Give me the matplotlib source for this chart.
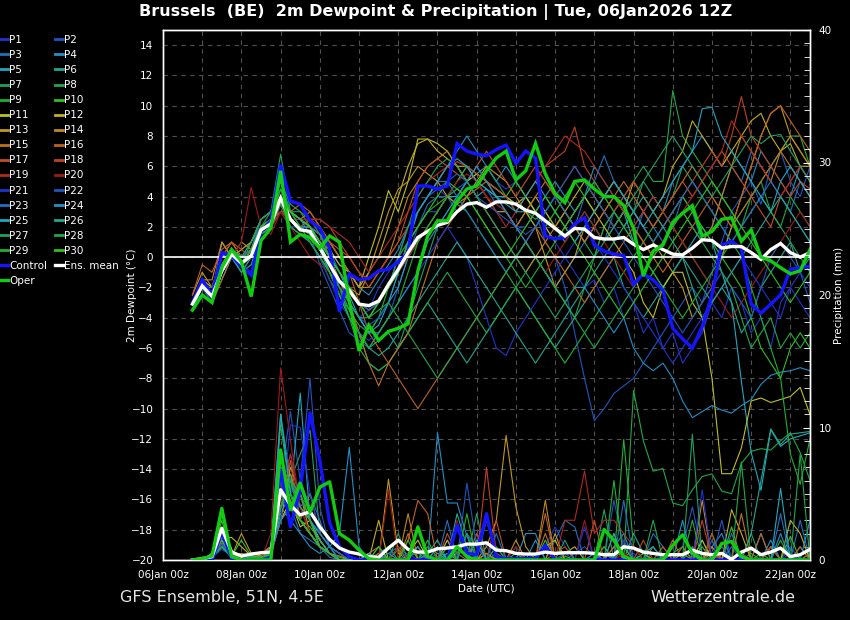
import numpy as np
import pandas as pd
import matplotlib
matplotlib.use("Agg")
import matplotlib.pyplot as plt
import matplotlib.dates as mdates
from matplotlib.lines import Line2D
from matplotlib.ticker import MultipleLocator

# ---------------- data ----------------
times = pd.date_range("2026-01-06 18:00", periods=64, freq="6h")

member_names = ["P%d" % k for k in range(1, 31)]
member_colors = [
    "#2233cc", "#1f55c0", "#1f70c0", "#2090c8", "#20a8c0", "#20a890", "#20a060", "#20a848", "#20b030", "#30c020",
    "#c0c020", "#c0b020", "#c09820", "#c08820", "#c07020", "#c06020", "#c05020", "#c04020", "#b02820", "#a01818",
    "#2233cc", "#1f55c0", "#1f70c0", "#2090c8", "#20a8c0", "#20a890", "#20a060", "#20a848", "#20b030", "#30c020",
]

# 2m dewpoint (deg C), 6-hourly from 06Jan 18z
control_dew = [-3.0, -1.5, -2.5, 0.3, 0.1, -0.6, -1.2, 1.7, 2.4, 6.1, 3.7, 3.5, 2.4, 1.9, 0.6, -3.6,
               -1.1, -1.5, -1.4, -0.9, -0.8, -0.3, 0.3, 4.7, 4.7, 4.5, 4.7, 7.5, 7.0, 6.8, 6.7, 7.1,
               7.4, 6.2, 7.0, 6.55, 1.4, 1.2, 1.3, 2.2, 2.6, 0.8, 0.4, 0.2, 0.1, -1.8, -1.1, -1.5,
               -2.2, -4.7, -5.4, -6.0, -4.6, -2.5, 0.8, 1.05, 0.6, -3.1, -3.7, -3.1, -2.5, -0.8, -0.7, -0.6]
oper_dew = [-3.5, -2.5, -3.0, -0.7, 0.5, -0.3, -2.6, 1.1, 1.9, 5.7, 1.0, 1.5, 1.3, 0.6, 1.4, 1.0,
            -2.9, -6.2, -4.5, -5.5, -4.9, -4.7, -4.4, -0.9, 1.4, 2.4, 2.4, 3.7, 4.5, 4.7, 5.7, 6.55,
            7.0, 5.1, 5.7, 7.5, 5.5, 4.2, 3.6, 5.0, 5.1, 4.5, 4.0, 4.0, 3.4, 1.9, -1.25, 0.4,
            0.8, 2.3, 2.9, 3.4, 1.4, 1.7, 2.5, 2.6, 1.05, 1.8, 0.0, -0.25, -0.7, -1.1, -0.9, 0.5]
mean_dew = [-3.1, -1.9, -2.6, -0.9, 0.2, -0.4, 0.1, 1.8, 2.2, 3.9, 2.5, 1.8, 1.7, 0.6, -0.5, -1.6,
            -2.2, -3.1, -3.2, -2.9, -1.8, -0.8, 0.3, 1.3, 1.7, 2.1, 2.3, 3.0, 3.5, 3.6, 3.3, 3.65,
            3.65, 3.5, 3.1, 2.9, 2.4, 1.9, 1.4, 1.9, 1.85, 1.3, 1.2, 1.2, 1.3, 0.85, 0.5, 0.8,
            0.5, 0.2, 0.15, 0.6, 1.15, 1.1, 0.6, 0.7, 0.7, 0.3, -0.15, 0.5, 0.9, 0.3, 0.0, 0.3]

dew_p01 = [-3, -2, -2.5, 1, 0, -0.5, -1, 1.5, 2.5, 3.5, 3, 2.5, 2, 1, -1, -2,
           -3, -4, -3.5, -2, -1, 0, 1, 3, 4, 4.5, 4, 5, 6, 5.5, 6, 5,
           4.5, 5, 4, 3, 2, 1, 0, -1, -2, -1.5, -3, -2, -4, -3, -5, -4,
           -6, -5, -7, -6, -5, -3, -4, -2, -3, -5, -4, -6, -3, -2, -3, -4]
dew_p02 = [-3, -1.5, -2, 0, 0.5, 0, 0.5, 2, 2, 3, 2, 2, 1.5, -0.5, -2, -3.5,
           -5, -5.5, -6, -5, -4, -2, 0, 2, 3, 3, 4, 4.5, 5, 6, 5, 4,
           3, 2, 2, 3, 1, 0, -2, -5, -8, -10.8, -10, -9, -8.5, -8, -7, -6,
           -5, -4, -3, -2, -3, -1, 1, 3, 4, 5, 3.5, 6, 7, 5, 4, 6]
dew_p03 = [-3.5, -2, -3, -1, 0, -1, 0, 2, 2.5, 4, 3, 2.5, 2, 1, 0, -1,
           -2, -3, -4, -3, -2, -1, 1, 2, 3.5, 4, 4, 3, 4, 5, 4.5, 3.5,
           3, 2, 1, 0, -1, -2, -1, 0, 1, 2, 1, 3, 2, 1, 3, 2,
           1, 2, 4, 3, 1, 2, 4, 6, 5, 7, 6, 5, 4, 3, 5, 4]
dew_p04 = [-3, -2, -2.5, -0.5, 0.5, 0, 0.5, 2, 2.5, 4.5, 3, 2.5, 2, 1.5, 0.5, -0.5,
           -1, -2, -2.5, -1.5, -0.5, 0.5, 2, 3, 4, 5, 6, 7, 8, 7, 6, 5,
           6, 5, 4, 3, 4, 5, 4, 3, 4, 6, 5, 4, 3, 2, 3, 4,
           3, 5, 6, 7, 8, 7, 6, 7, 6, 5, 7, 6, 5, 4, 6, 5]
dew_p05 = [-3, -2.5, -3, -1, 0, 0, 0.5, 2.5, 3, 5, 3, 2, 2, 1, 0, -1.5,
           -3, -4, -5, -4, -3, -2, 0, 1, 2, 3, 4, 4, 5, 4, 4.5, 4,
           4, 3, 3, 2, 3, 2, 1, 2, 3, 2, 1, 2, 3, 1, 0, -1,
           -2, -1, 0, 1, 2, 1, -1, -3, -8.2, -12.9, -15.4, -11.4, -12.5, -12, -11.8, -11.6]
dew_p06 = [-3.5, -2.5, -3, -1.5, 0, -1, 0, 2, 2, 4, 2.5, 2, 1, 0, -1, -2,
           -3.5, -5, -6, -5.5, -5, -6, -5, -4, -3, -4, -5, -6, -7, -6, -5, -4,
           -3, -2, -3, -4, -5, -6, -5, -4, -3, -2, -1, 0, -2, -3, -4, -3,
           -2, -1, 0, -2, -4, -3, -2, -3, -5, -4, -2, -1, 0, 1, -1, 0]
dew_p07 = [-3, -2, -2.5, -0.5, 0.5, -0.5, 1, 2, 3, 6.8, 3, 3, 2, 1, -0.5, -2,
           -4, -5, -7, -7.5, -7, -6, -4, -2, 0, 2, 3, 4, 5, 5.5, 6, 5,
           4, 3.5, 3, 2.5, 3, 4, 3, 2, 1, 0, 2, 3, 2, 3, 5, 4,
           3, 4, 6, 5, 4, 3, 2, 1, 2, 3, 4, 3, 2, 1, 0, -1]
dew_p08 = [-3, -2, -3, -1, 0, 0, 1, 2.5, 3, 4, 2, 1.5, 1, 0, -1, -2.5,
           -4, -6, -7, -7.5, -7, -6, -5, -4, -3, -2, -1, -2, -3, -4, -5, -4,
           -3, -2, -1, 0, -1, -2, -3, -4, -2, 0, 2, 3, 4, 5, 6, 5,
           5, 11, 8, 7, 6, 5, 4, 3, 2, 4, 5, 3, 2, 4, 3, 2]
dew_p09 = [-3.5, -2.5, -3, -1, 0.5, -0.5, 0, 1.5, 2, 3.5, 2, 1.5, 1, 0, -1.5, -2.5,
           -3.5, -4.5, -5, -4, -2, 0, 1, 2, 3, 3.5, 4, 3.5, 3, 2, 1, 0,
           -1, -2, -3, -4, -5, -6, -7, -6, -5, -4, -3, -2, -1, 0, 1, 2,
           3, 2, 1, 0, -1, -2, 0, 2, 3, 4, 5, 6, 7, 8, 8, 6]
dew_p10 = [-3, -2, -2.5, -0.5, 0, -0.5, 0.5, 2, 2.5, 4, 3, 2.5, 2, 1, 0, -1,
           -2, -3, -3.5, -3, -2, -1, 0, 1, 2, 3, 4, 5, 6, 5.5, 5, 4.5,
           4, 5, 4, 3, 2, 3, 4, 5, 4, 3, 4, 5, 4, 3, 2, 1,
           2, 3, 4, 3, 2, 1, 0, -1, -2, -4, -6, -7, -8, -6, -5, -6]
dew_p11 = [-3, -2, -2.5, 1, 0, 0.5, 1, 2.5, 3, 4, 3, 2.5, 2, 1.5, 1, 0,
           -1, -2, 0, 2, 4.4, 3, 5, 7.8, 7.8, 7.5, 7, 6, 5, 5.5, 5, 4.5,
           4, 3.5, 4, 3, 2, 1, 2, 3, 4, 3, 2, 1, 0, -1, -3, -4,
           -2, -1, -1, -3, -4, -8, -14.3, -14.3, -12.6, -9.5, -9.3, -9.6, -9.4, -9.2, -8.6, -10.4]
dew_p12 = [-3, -1.5, -2, 0, 1, 0, 0.5, 2, 2, 3.5, 2.5, 2, 2, 1, 0.5, -0.5,
           -1, -2, -1, 0, 2, 4, 6, 7.5, 7.8, 7, 6.5, 6, 6, 5, 4, 3,
           3, 2, 3, 4, 3, 2, 3, 4, 5, 4, 3, 2, 3, 5, 4, 3,
           4, 6, 7, 9, 8, 7, 6, 7, 8, 9, 9.5, 8, 7, 7.5, 6, 6]
dew_p13 = [-2.5, -1, -2, 0, 0.5, 0, 0, 1.5, 2, 3, 2.5, 2, 1.5, 0.5, -0.5, -1.5,
           -2, -2.5, -1, 1, 3, 4.5, 5, 6, 5.5, 5, 4, 3.5, 4, 5, 6, 5.5,
           5, 4, 3, 2, 0, -2, -1, 0, 2, 3, 4, 5, 4, 3, 2, 1,
           0, -1, -2, -4, -3, -2, 0, 2, 4, 6, 8, 9.5, 10, 8, 7, 6]
dew_p14 = [-3, -1.5, -1.5, 1, 0, 1, 0.5, 2, 2.5, 3.5, 3, 2.5, 3, 2, 1, 0,
           -1, -2, -2, -1, 0, 2, 4, 5, 6, 6.5, 7, 6, 5, 4, 3, 2,
           1, 0, -1, 0, 1, 2, 3, 2, 1, 2, 3, 4, 3, 2, 1, 0,
           1, 2, 3, 2, 1, 2, 4, 6, 8, 7, 6, 5, 7, 8, 7, 6]
dew_p15 = [-3.5, -2.5, -3, -1.5, 0, -0.5, 0, 2, 2, 4, 3, 2.5, 2, 1.5, 0, -1.5,
           -3, -5, -7, -8.5, -7, -6, -5, -3, -1, 1, 2, 3, 4, 4.5, 5, 4,
           3, 2, 3, 4, 5, 4, 3, 2, 1, 2, 3, 4, 5, 4, 3, 2,
           3, 4, 5, 6, 5, 4, 3, 2, 3, 4, 5, 6, 7, 6, 5, 4]
dew_p16 = [-2.5, -0.5, -1, 0.5, 1, 0, 0, 1.5, 2.5, 3, 3, 3.5, 3, 2, 1, 0,
           -1, -3, -5, -6, -7, -8, -9, -10, -9, -8, -7, -6, -5, -4, -3, -2,
           -1, 0, 1, 2, 1, 0, -1, -2, -3, -2, -1, 0, 1, 2, 1, 0,
           -1, 0, 1, 2, 3, 4, 3, 2, 4, 6, 8, 9.5, 10, 9, 8, 7]
dew_p17 = [-3, -2, -2, 0, 1, 0.5, 0, 2, 2.5, 3, 2.5, 2, 2.5, 2, 1, 0.5,
           0, -1, -2, -1, 0, 1, 3, 5, 6, 6.5, 6, 5.5, 5, 6, 7, 6,
           5, 4, 5, 6, 5, 4, 5, 6, 5, 4, 3, 2, 3, 4, 3, 2,
           3, 4, 5, 4, 5, 6, 7, 6, 5, 4, 3, 2, 4, 5, 6, 5]
dew_p18 = [-3, -2, -2.5, -0.5, 0.5, 0, 0.5, 2, 2, 3.5, 2.5, 2, 2.5, 2.5, 2, 1,
           0, -1, -1.5, -1, 0, 1, 2, 3, 4, 5, 6, 6.3, 6, 5.5, 5, 4.5,
           4, 3, 4, 5, 6, 6.5, 7, 8.6, 6, 5, 4, 3, 4, 5, 4, 3,
           2, 3, 4, 5, 6, 7, 6, 8, 10.6, 8, 7, 6, 5, 4, 5, 4.5]
dew_p19 = [-3, -2, -2, 0, 0, -0.5, 0, 2, 2, 3, 2.5, 2.5, 2.5, 2.5, 2, 1.5,
           1, 0, -1, 0, 1, 2, 3, 4, 5, 5.5, 6, 6.3, 6, 5, 4, 3,
           2, 3, 4, 5, 6, 7, 8, 7.5, 7, 6, 5, 4, 3, 2, 3, 4,
           3, 2, 3, 4, 5, 6, 7, 9, 8, 7, 6, 5, 4, 5, 6, 5]
dew_p20 = [-3, -2, -2, -0.5, 0, 1, 4.6, 2, 1.5, 3, 2, 1, 0, -0.5, -1, -2,
           -2.5, -3, -3.5, -3, -2, -1, 0, 1, 2, 3, 4, 5, 5.5, 5, 4, 3.5,
           3, 2, 1, 0, -1, 0, 1, 2, 3, 2, 1, 0, -1, -2, -1, 0,
           1, 2, 1, 0, -1, -2, -3, -4, -3, -2, -1, 0, 1, 2, 3, 2]
dew_p21 = [-3, -2, -2.5, -1, 0, -1, -0.5, 1.5, 2, 3.5, 2, 1.5, 1, 0, -1.5, -3,
           -4, -5, -5.5, -5, -4, -3, -2, -1, 0, 1, 2, 1, 0, -2, -4, -6,
           -6.5, -5, -4, -3, -2, -1, 0, 1, 2, 1, 0, -1, -2, -3, -4, -5,
           -6, -7, -6, -5, -4, -3, -2, -1, 0, -1, -2, -3, -4, -2, -1, -2]
dew_p22 = [-3.5, -2, -3, -1, 0, -0.5, 0, 2, 2.5, 4, 2.5, 2, 1.5, 0.5, -0.5, -2,
           -3, -4, -4.5, -4, -3, -1, 1, 3, 4, 4.5, 5, 5.5, 5, 4, 3.5, 3,
           2.5, 2, 1.5, 2, 3, 4, 5, 6, 5, 4, 3, 2, 1, 0, -1, -2,
           -3, -4, -5, -4, -3, -2, -1, -2, -3, -4, -2, 0, 1, 0, -1, -3]
dew_p23 = [-3, -2, -2.5, 0, 0.5, 0, 0.5, 2.5, 3, 4.5, 3, 2, 2, 1.5, 0.5, -1,
           -2, -3, -3.5, -3, -2, 0, 2, 3, 4, 5, 5, 4, 3, 2, 1, 0,
           -1, 0, 1, 2, 3, 4, 3, 2, 4, 5, 6.7, 5, 4, 3, 2, 1,
           2, 3, 4, 5, 4, 3, 2, 1, 2, 3, 4, 5, 4, 3, 2, 1]
dew_p24 = [-3, -2.5, -3, -1, 0, -0.5, 0.5, 2, 2, 4, 3, 2.5, 1.5, 0.5, -0.5, -2,
           -3, -4, -5, -5, -4, -3, -2, -1, 1, 2, 3, 4, 5, 6, 5, 4,
           3, 2, 1, 0, -1, -2, -3, -2, -2, -3, -4, -5, -4, -6, -7, -7.5,
           -7, -8, -9.5, -10.6, -10.2, -9.8, -10.1, -10.3, -9.8, -9.4, -8.4, -7.8, -7.6, -7.5, -7.3, -7.5]
dew_p25 = [-3, -2, -2.5, -0.5, 0.5, 0, 0, 2, 2.5, 4, 3, 2.5, 2, 1, 0, -1,
           -2.5, -4, -5, -4.5, -3, -1, 1, 3, 4, 5, 6, 6.5, 6, 5, 4.5, 4,
           3.5, 3, 4, 5, 4, 3, 2, 1, 2, 3, 4, 5, 4, 3, 2, 3,
           4, 5, 6, 7, 9.8, 9.9, 8, 7, 6, 5, 4, 3, 5, 6, 5, 4]
dew_p26 = [-3.5, -2.5, -3, -1, 0, -1, -0.5, 1.5, 2, 4, 2.5, 2, 1.5, 0.5, -1, -2.5,
           -4, -5, -6, -6.5, -6, -5, -4, -3, -2, -1, 0, 1, 0, -1, -2, -3,
           -4, -5, -6, -7, -6, -5, -4, -3, -2, -1, 0, 1, 2, 3, 4, 3,
           2, 1, 0, -1, -2, -3, -2, -1, 0, 1, 2, 3, 4, 3, 2, 1]
dew_p27 = [-3, -2, -2, -0.5, 0.5, 0, 1, 2.5, 3, 5, 3.5, 3, 2.5, 1.5, 0, -1,
           -2, -3, -4, -3, -2, 0, 2, 4, 5, 6, 6.5, 6, 5, 4, 3, 2,
           1, 0, -1, -2, -3, -4, -3, -2, -1, 0, 1, 2, 3, 4, 5, 6,
           7, 8, 7, 6, 5, 4, 5, 6, 7, 8, 7.5, 8, 8.1, 7, 6, 5]
dew_p28 = [-3, -2.5, -3, -1, 0, -0.5, 0, 2, 2, 3.5, 2, 1.5, 1, 0, -1, -2,
           -3, -4, -4, -3.5, -3, -4, -5, -6, -7, -8, -7, -6, -5, -4, -3, -2,
           -1, 0, 1, 0, -1, -2, -3, -4, -5, -6, -5, -4, -3, -2, -1, 0,
           1, 2, 3, 2, 1, 0, -1, -2, -4, -6, -5, -4, -6, -5, -6, -5]
dew_p29 = [-3.5, -2.5, -3, -1, 0, -0.5, 0, 2, 2.5, 4.5, 3, 2, 1.5, 0.5, -1, -2.5,
           -4, -5, -6, -5, -4, -3, -1, 1, 2, 3, 4, 4.5, 4, 3, 2, 1,
           0, -1, -2, -1, 0, 1, 2, 3, 4, 5, 4, 3, 2, 1, 0, -1,
           -2, -3, -4, -3, -2, -1, 0, 1, 0, -2, -4, -6, -8, -13, -15, -12]
dew_p30 = [-3, -2, -2.5, -0.5, 0, -0.5, 0.5, 2, 2.5, 4, 3, 2.5, 2, 1, 0, -1,
           -2, -3, -4, -3, -2, -1, 1, 2, 3, 4, 5, 4.5, 4, 3, 2, 1,
           0, 1, 2, 3, 4, 3, 2, 1, 0, -1, -2, -3, -4, -3, -2, -1,
           0, 1, 2, 3, 4, 5, 4, 3, 2, 1, 0, -1, -2, -3, -2, -1]

# 6-hourly precipitation (mm)
control_pr = [0, 0, 0, 2.1, 0.1, 0, 0, 0, 0.2, 6.8, 2.5, 5.3, 11.1, 7.5, 2.8, 1.0,
              0.25, 0, 0, 0, 0, 0, 0, 0, 0, 0, 0, 2.6, 0.5, 0.4, 3.5, 0.25,
              0.1, 0.1, 0.1, 0.1, 1.1, 0, 0, 0, 0, 0, 0, 0, 0, 0, 0, 0,
              0, 0, 0, 0, 0, 0, 0, 0, 0, 0, 0, 0, 0, 0, 0, 0]
oper_pr = [0, 0.1, 0.3, 3.9, 0.25, 0, 0, 0, 0, 8.3, 3.8, 5.8, 3.6, 5.5, 5.9, 2.0,
           1.5, 0.75, 0.1, 0, 0, 0, 0, 2.5, 0.25, 0, 0, 1.0, 0.25, 0, 0, 0,
           0, 0, 0, 0, 0, 0, 0, 0, 0, 0, 2.3, 1.5, 0.25, 0, 0, 0,
           0, 1.1, 1.9, 0.5, 0, 0, 1.25, 1.4, 0.25, 0, 0, 0, 0, 0, 0, 0]
mean_pr = [0, 0.1, 0.25, 2.4, 0.6, 0.3, 0.45, 0.55, 0.6, 5.3, 4.15, 3.4, 3.65, 2.5, 1.55, 0.9,
           0.6, 0.45, 0.25, 0.2, 0.9, 1.5, 0.8, 0.6, 0.6, 0.85, 0.9, 1.0, 1.2, 1.2, 1.3, 0.75,
           0.7, 0.5, 0.45, 0.45, 0.6, 0.5, 0.55, 0.55, 0.55, 0.5, 0.4, 0.4, 1.0, 0.9, 0.6, 0.5,
           0.4, 0.4, 0.4, 0.75, 0.5, 0.4, 0.5, 0.05, 0.6, 0.9, 0.4, 0.6, 0.9, 0.25, 0.4, 0.8]

pr_p01 = [0, 0, 0.5, 1.5, 0.3, 0, 0.5, 0, 1, 5, 8, 4, 2, 1, 0.5, 0,
          0, 0, 0, 0, 0, 1, 0, 0, 0, 0, 1.5, 0.5, 0, 2, 1, 0,
          0, 0, 0.5, 0, 1, 2.5, 1, 0, 0, 0.5, 1, 0, 0, 0.5, 0, 0,
          1, 0, 0.5, 0, 1.5, 0, 0, 1, 0.5, 0, 0, 1, 0, 0.5, 0, 0]
pr_p02 = [0, 0, 0.2, 1, 0.5, 0, 0, 0.3, 0.5, 6, 11.2, 6, 13.7, 4, 1, 0.5,
          0, 0, 0, 0.5, 0, 0, 0, 0, 0, 0.5, 0, 0, 0, 0, 3, 0.5,
          0, 0, 0, 0, 0, 0, 0, 0.5, 1, 0.3, 0, 4.5, 1, 0, 0, 0.5,
          0, 0, 1, 4, 0.5, 0, 0, 1, 0, 0, 0, 0, 0, 1, 0, 0]
pr_p03 = [0, 0.1, 0.3, 1, 0.2, 0, 0.5, 0.2, 0.5, 3, 4, 2, 1.5, 1, 0.2, 0,
          0, 0, 0, 0, 0.5, 1, 0.3, 0.5, 0, 1, 0, 0, 2, 1, 0, 0.5,
          0, 1, 0, 0, 0, 1.5, 3, 2.5, 0, 0, 0, 0, 0, 0, 0, 2,
          1, 0, 0, 0, 0, 1.5, 0, 2, 0, 0, 0, 1, 0, 0, 3, 0]
pr_p04 = [0, 0, 0.5, 2, 0.5, 0.3, 0, 0, 0.5, 4, 3, 2, 1, 0.5, 1, 2,
          8.5, 1, 0, 0, 0, 0, 0, 0, 0, 9.6, 4.3, 4.3, 1.8, 0, 0, 1,
          0, 0, 2, 2, 0, 0, 0, 0, 0, 0.5, 0, 1, 2, 0, 0, 0,
          0, 0, 3, 0, 0, 1, 2, 0, 0, 0, 0, 1.5, 0, 0, 1, 0]
pr_p05 = [0, 0, 0.3, 1.8, 0.4, 0, 0.3, 0.2, 0.4, 3.5, 5, 12.6, 3, 1, 0.5, 0,
          0, 0, 0, 0, 0, 0, 0, 0, 0, 0, 0.5, 0, 0, 1.5, 0, 0,
          0, 0, 0, 0, 0, 0, 0, 0, 0, 0, 0, 0, 0, 0, 0.5, 1,
          0, 0, 0, 1, 0, 0, 0, 0, 0, 0, 2, 0, 0, 0, 0, 0]
pr_p06 = [0, 0, 0.2, 1.2, 0.3, 0, 0.2, 0.5, 1, 11, 6, 4, 3, 2, 1, 0.5,
          0, 0, 0, 0.5, 1, 0, 0, 0, 0.5, 1.5, 0, 3.5, 1, 0, 0.5, 0,
          0, 0, 0, 0, 1, 0, 0, 0, 0, 0, 0, 0, 0, 2, 0.5, 0,
          0, 0, 0, 0, 0, 0, 0, 0, 0, 0, 0, 0, 0, 0, 0, 0]
pr_p07 = [0, 0, 0.3, 1, 0.3, 0, 0.2, 0.3, 0.5, 7, 6, 8, 9.8, 2, 1, 0,
          0, 0, 0, 0, 0, 2, 0, 0, 0, 0, 0, 0, 0, 3.5, 0, 0,
          0, 0, 0, 0, 0, 0, 0, 0, 0, 0, 3.8, 0, 0, 0, 0, 0,
          0, 0, 0, 0, 0, 0, 0, 0, 0, 2, 0, 0, 0, 0, 0, 0]
pr_p08 = [0, 0, 0.4, 1.5, 0.3, 0.5, 0.3, 0, 0.5, 10.2, 5, 3, 2, 1, 0.5, 0,
          0, 0, 0, 0, 0, 0, 0, 0, 1, 0.5, 0, 0, 0, 0, 0, 0,
          0, 0, 0, 0, 0, 0, 0, 0, 0, 0, 0, 0, 0, 12.8, 9, 6.7,
          6.9, 4.3, 4.1, 5.3, 6.3, 6.5, 5.2, 5.0, 7.3, 8.2, 8.4, 8.3, 9.0, 9.6, 8.1, 6.0]
pr_p09 = [0, 0, 0.2, 1, 0.2, 0, 0.1, 0.3, 0.5, 4, 5, 3, 2, 1, 0.5, 0.2,
          0, 0, 0.5, 0, 0, 0.8, 0, 0, 1.5, 0, 0, 0.5, 2, 0, 0, 1,
          0, 0, 0, 0, 0, 0, 0, 0, 0, 0, 0, 0, 9.1, 1, 0, 0,
          0, 0.5, 1, 0, 0, 2, 0, 0, 0, 0.5, 0, 0, 1.5, 0, 0, 0.5]
pr_p10 = [0, 0, 0.3, 3, 0.2, 0, 0.2, 0.3, 1, 5, 4, 3, 2.5, 1.5, 0.5, 0,
          0, 0, 0, 0, 0, 0, 0.5, 1, 0, 0, 0, 0, 0, 0, 0, 0,
          0, 0.5, 0, 0, 1.5, 0, 0.3, 0, 0, 0, 1, 0, 0, 0, 0.5, 0,
          0, 0, 0.5, 0, 1, 0, 0, 2.5, 0, 0, 0.5, 0, 0, 1.8, 0, 0]
pr_p11 = [0, 0, 0.2, 1.5, 0.5, 0.2, 0.5, 0.3, 0.5, 3, 4.5, 2.5, 3, 1.5, 0.5, 0,
          0, 0, 0, 0, 0, 0, 0.5, 1.5, 0, 0, 0, 0, 0, 0, 0.5, 0,
          0, 0, 0, 0, 1, 1.5, 0, 0, 0, 0, 0, 0, 0, 0, 0, 0,
          0, 0, 0, 0, 1.5, 0, 0, 0, 0, 0, 0, 0, 0, 0, 0, 0]
pr_p12 = [0, 0, 0.3, 1.7, 1.7, 1, 0.3, 0.5, 1, 4, 6, 5, 3, 1.5, 0.5, 0,
          0, 0, 0, 3, 0, 0, 0, 0, 0, 0, 1.5, 0, 0, 0, 0, 0,
          0, 0, 0, 0, 0, 0, 0.5, 1, 0, 0, 0, 0, 0, 0, 0, 0,
          0, 0, 0, 0, 0, 0, 0, 3.8, 2, 0, 0, 0, 0, 3, 2, 0]
pr_p13 = [0, 0, 0.2, 1, 0.3, 2, 0.5, 0.2, 0.5, 3, 7, 5, 2, 1, 0.5, 0,
          0, 0, 0, 0, 6.1, 0.5, 0, 0, 0, 0, 0, 0, 0, 0, 1, 3,
          9.4, 4, 1, 0, 0, 2, 0, 0, 0, 0, 0, 0, 0, 0, 0, 0,
          0, 0, 0, 0, 0, 1, 0, 0, 0, 0, 0, 0, 0, 0, 0, 0]
pr_p14 = [0, 0, 0.5, 1, 0.2, 0.5, 0.2, 0, 0.5, 5, 6.5, 4, 3, 1, 0.5, 0.3,
          0, 0, 0, 0, 0, 0, 3.5, 0, 0, 0, 0, 0, 0, 0, 0, 0,
          0, 1.5, 0, 0, 4.5, 0, 0, 0, 0, 0, 0, 0, 0, 1, 0.5, 0,
          0, 0, 0, 0, 4.5, 0, 0, 0, 0, 0, 0, 0, 0, 0, 0, 0]
pr_p15 = [0, 0, 0.3, 1, 0.3, 0, 0.2, 0.5, 1, 6, 4, 3, 5, 2, 1, 0.5,
          0, 0, 0.5, 1, 0, 0, 2, 0, 0, 0, 1, 0, 0, 0, 0.5, 0,
          0, 0, 0, 0, 2, 0, 0, 0, 0, 0, 0, 1, 0, 0, 0, 0,
          0, 1.5, 0, 0, 0, 0.5, 0, 0, 3.5, 0, 0, 1, 0, 0, 0, 0.5]
pr_p16 = [0, 0, 0.2, 1, 0.5, 0, 0.3, 0, 0.3, 3, 4, 3, 2, 1, 0.5, 0,
          0, 0, 0, 0.5, 0, 0, 1.5, 4.5, 3.5, 0, 0, 0, 0, 2, 0, 0,
          0, 0, 0, 0, 3.5, 0, 0, 0, 0, 0, 0, 0, 0, 0, 0, 0,
          0, 0, 1, 0, 0, 0, 0.5, 0, 0, 0, 2, 0, 0, 0, 1, 0]
pr_p17 = [0, 0, 0.3, 1.3, 0.4, 0, 0.2, 0.3, 0.5, 4, 7.5, 3, 2, 1, 0.5, 0,
          0, 0, 0, 0, 0, 0, 0, 1, 0, 0, 2, 0.5, 0, 0, 0, 3,
          0, 0, 0, 0, 0, 0, 0, 0, 0, 3, 0, 0, 1.5, 0, 0, 0,
          1, 0, 0, 0, 0, 2, 0, 0, 0, 0, 0, 1, 0, 0, 0, 0]
pr_p18 = [0, 0, 0.2, 1, 0.3, 0, 0.3, 0.2, 0.5, 4, 5, 3, 2, 1, 0.5, 0,
          0, 0, 0, 0, 0, 0, 0, 0, 0, 0, 0, 0, 0, 0, 7, 0.5,
          0, 0, 0, 0, 0, 0.5, 1, 0, 0, 0, 0, 2, 0, 0, 1.5, 0,
          0, 0, 0, 0, 3, 0, 0, 0, 0.5, 0, 0, 0, 0, 0, 0, 0]
pr_p19 = [0, 0, 0.3, 1, 0.2, 0, 0.4, 0.2, 0.5, 5, 8, 4, 2, 1, 0.5, 0,
          0, 0, 0, 0, 0, 1, 0, 0, 0, 0, 0, 0, 0, 0, 0, 0,
          0, 0, 0, 0, 0, 0, 3, 3, 6.7, 2, 3, 3, 2, 1, 0, 0,
          0, 0, 0, 0, 0, 0, 0, 0, 0, 0, 0, 0, 0, 0, 0, 0]
pr_p20 = [0, 0, 0.2, 1, 0.3, 0, 0.2, 0, 2, 14.5, 9, 4, 2, 1, 0.5, 0,
          0, 0, 0, 0, 5.3, 0, 0, 0, 0, 0, 0, 3, 0, 0, 0, 0,
          0, 1, 0, 0, 0, 0, 0, 0, 3, 0, 0, 0, 0.5, 0, 0, 0,
          0, 0, 0, 0, 0, 0, 0, 0, 0, 0, 0, 0, 0, 0, 0, 0]
pr_p21 = [0, 0, 0.2, 0.8, 0.3, 0, 0.2, 0, 0.5, 3, 10.2, 10, 5, 2, 1, 0,
          0, 0, 0, 0, 0, 0, 0.5, 0, 0, 0, 0, 0, 2, 0, 0, 0,
          0, 0, 0, 0, 0, 0, 0.5, 0, 2.5, 0, 0, 0, 1.5, 0, 0, 0,
          0, 0, 0, 0, 5.3, 0, 0, 0, 0, 0, 0, 0, 0, 0, 0, 0]
pr_p22 = [0, 0, 0.3, 1.2, 0.4, 0, 0.3, 0.2, 0.5, 4, 5, 6, 4, 2, 1, 0.5,
          0, 0, 0, 0, 0, 0, 0, 0, 0, 0, 0, 0, 5.8, 1, 0, 0,
          0, 0, 0, 0, 0, 0, 0, 0, 0, 0, 0, 0, 0, 0, 0, 0,
          0, 0, 0, 0, 0, 0, 3, 0, 0, 0, 0, 0, 0, 0, 0, 0]
pr_p23 = [0, 0, 0.3, 1, 0.3, 0, 0.2, 0, 0.5, 4, 5, 4, 5, 3, 1, 0.5,
          0, 0, 0, 0, 0, 0, 0, 0, 0, 0, 3, 0, 0, 0, 0, 2,
          0, 0, 0, 0, 0, 0, 0, 0, 0, 0, 0, 0, 4.5, 0, 0, 0,
          0, 0, 0, 0, 0, 0, 1, 0, 0, 0, 0, 0, 3.5, 0, 0, 0]
pr_p24 = [0, 0, 0.2, 1, 0.2, 0, 0.2, 0, 0.5, 3, 4, 5, 3, 2, 1, 0,
          0, 0, 0, 0, 0.5, 0, 0, 1, 0, 0, 0, 0, 0, 0, 0, 0,
          0, 0, 0, 1.5, 0, 0, 0, 0, 0, 0, 0.5, 0, 0, 0, 0, 0,
          0, 0, 0, 0, 0, 0, 0, 0, 0, 0, 0, 0, 2, 0, 0, 3]
pr_p25 = [0, 0, 0.3, 1.5, 0.3, 0, 0.3, 0.2, 0.5, 11, 5, 3, 2, 1, 0.5, 0,
          0, 0, 0.5, 0, 0, 0, 0, 0, 0, 1, 0, 0, 0, 1.5, 0, 0,
          0, 0, 0, 0, 0, 0, 0, 0, 0, 0, 0, 2, 0, 0, 0, 0,
          0, 0, 0, 0, 0, 0, 0, 0, 0, 0, 0, 0, 5.4, 0, 0, 0]
pr_p26 = [0, 0, 0.2, 1, 0.3, 0, 0.2, 0, 0.5, 4, 6, 4, 3, 1.5, 0.5, 0,
          0, 0, 0, 0, 0, 0, 0, 0, 0, 0, 0, 0, 0, 0, 3.5, 0,
          0, 0, 0, 0, 1, 0, 0, 0, 0, 0, 0, 0, 0, 0, 0, 1,
          0, 0, 0, 0, 0, 0, 0, 0, 0, 2, 6, 9.9, 8.7, 9.5, 9.6, 9.7]
pr_p27 = [0, 0, 0.3, 1, 0.3, 0.3, 0.3, 0.2, 0.5, 4, 6, 3, 2, 1, 0.5, 0,
          0, 0, 0, 1, 0, 0, 0, 0, 0, 0, 0, 0, 2, 0, 0, 0,
          0, 0, 0, 0, 0, 0, 1.5, 0, 0, 0, 0, 0, 0, 0, 0, 0,
          0, 0, 0, 9.5, 0, 0, 0, 0, 0, 0, 0, 0, 0, 0, 0, 0]
pr_p28 = [0, 0, 0.2, 1, 0.2, 0, 0.2, 0, 0.5, 4, 5, 3, 2, 1, 0.5, 0,
          0, 0, 0, 0, 0, 0, 0, 0, 0, 0, 1, 0, 0, 0, 0, 0,
          0, 0, 0, 0, 0, 0, 0, 0, 0, 0, 0, 0, 0, 0, 0, 3,
          0, 0, 0, 0, 0, 0, 0, 0, 7.4, 0, 0, 0, 0, 0, 8, 0]
pr_p29 = [0, 0, 0.3, 3.5, 0.3, 0, 0.2, 0, 0.5, 4, 6, 5, 3, 1, 0.5, 0,
          0, 0, 0, 0, 0, 0, 0, 0, 0, 0, 0, 0, 3.5, 0, 0, 0,
          0, 0, 0, 0, 0, 0, 0, 0, 0, 0, 0, 6, 0, 0, 0, 0,
          0, 0, 0, 3, 0, 0, 0, 0, 0, 0, 0, 0, 0, 0, 0, 0]
pr_p30 = [0, 0, 0.5, 1.5, 0.3, 1.5, 0.3, 0.2, 0.5, 5, 4, 3, 2, 1, 0.5, 0,
          0, 0, 0, 1, 0, 0, 1.5, 0, 0, 0, 0, 0, 0, 0, 0, 0,
          0, 0, 0, 0, 0, 0, 0, 0, 0, 0, 0, 0, 1, 0, 0, 0,
          0, 0, 0, 0, 0, 0, 0, 0, 0, 0, 0, 0, 0, 0, 0, 0]

member_dew = [dew_p01, dew_p02, dew_p03, dew_p04, dew_p05, dew_p06, dew_p07, dew_p08, dew_p09, dew_p10,
              dew_p11, dew_p12, dew_p13, dew_p14, dew_p15, dew_p16, dew_p17, dew_p18, dew_p19, dew_p20,
              dew_p21, dew_p22, dew_p23, dew_p24, dew_p25, dew_p26, dew_p27, dew_p28, dew_p29, dew_p30]
member_pr = [pr_p01, pr_p02, pr_p03, pr_p04, pr_p05, pr_p06, pr_p07, pr_p08, pr_p09, pr_p10,
             pr_p11, pr_p12, pr_p13, pr_p14, pr_p15, pr_p16, pr_p17, pr_p18, pr_p19, pr_p20,
             pr_p21, pr_p22, pr_p23, pr_p24, pr_p25, pr_p26, pr_p27, pr_p28, pr_p29, pr_p30]

for nm, arr in zip(member_names, member_dew):
    assert len(arr) == 64, ("dew", nm, len(arr))
for nm, arr in zip(member_names, member_pr):
    assert len(arr) == 64, ("pr", nm, len(arr))
for arr in (control_dew, oper_dew, mean_dew, control_pr, oper_pr, mean_pr):
    assert len(arr) == 64, len(arr)

# ---------------- styling ----------------
W, H = 850, 620
BG = "black"
FG = "white"
GRID = "#505050"
CONTROL_C = "#1414ff"
OPER_C = "#12cc12"
MEAN_C = "white"

plt.rcParams["font.family"] = ["DejaVu Sans"]

fig = plt.figure(figsize=(W / 100, H / 100), dpi=100, facecolor=BG)
ax = fig.add_axes([163 / W, 60 / H, 647 / W, 530 / H])
ax.set_facecolor(BG)
ax2 = ax.twinx()

# dewpoint
for c, arr in zip(member_colors, member_dew):
    ax.plot(times, arr, color=c, lw=0.8, zorder=2)
ax.axhline(0, color=FG, lw=1.2, zorder=3)
ax.plot(times, control_dew, color=CONTROL_C, lw=2.4, zorder=4, solid_joinstyle="miter")
ax.plot(times, mean_dew, color=MEAN_C, lw=2.4, zorder=5, solid_joinstyle="miter")
ax.plot(times, oper_dew, color=OPER_C, lw=2.4, zorder=6, solid_joinstyle="miter")

# precipitation
for c, arr in zip(member_colors, member_pr):
    ax2.plot(times, arr, color=c, lw=0.8, zorder=2)
ax2.plot(times, control_pr, color=CONTROL_C, lw=2.4, zorder=4)
ax2.plot(times, mean_pr, color=MEAN_C, lw=2.4, zorder=5)
ax2.plot(times, oper_pr, color=OPER_C, lw=2.4, zorder=6)

ax.set_xlim(pd.Timestamp("2026-01-06 00:00"), pd.Timestamp("2026-01-22 12:00"))
ax.set_ylim(-20, 15)
ax2.set_ylim(0, 40)

ax.set_yticks(np.arange(-20, 15, 2))
ax.xaxis.set_major_locator(mdates.DayLocator(bymonthday=list(range(6, 32, 2))))
ax.xaxis.set_minor_locator(mdates.DayLocator())
ax.xaxis.set_major_formatter(mdates.DateFormatter("%d%b %Hz"))

ax.grid(True, which="both", axis="x", color=GRID, lw=0.8, ls=(0, (4, 4)))
ax.grid(True, which="major", axis="y", color=GRID, lw=0.8, ls=(0, (4, 4)))
ax.set_axisbelow(True)

ax.tick_params(axis="both", which="both", length=0, colors=FG, labelsize=7.5)
ax.tick_params(axis="x", pad=7)
ax.tick_params(axis="y", pad=7)

ax2.set_yticks([0, 10, 20, 30, 40])
ax2.yaxis.set_minor_locator(MultipleLocator(1))
ax2.tick_params(axis="y", which="major", direction="in", length=5, color=FG, colors=FG, labelsize=7.5, pad=6)
ax2.tick_params(axis="y", which="minor", direction="in", length=4, color=FG)

for a in (ax, ax2):
    for s in a.spines.values():
        s.set_color(FG)
        s.set_linewidth(1.0)

ax.set_ylabel("2m Dewpoint (°C)", color=FG, fontsize=7.5)
ax.yaxis.set_label_coords(-0.040, 0.5)
ax2.set_ylabel("Precipitation (mm)", color=FG, fontsize=7.5)
ax2.yaxis.set_label_coords(1.037, 0.5)
ax.set_xlabel("Date (UTC)", color=FG, fontsize=7.5, labelpad=3)

fig.text(435.5 / W, 1 - 12 / H, "Brussels  (BE)  2m Dewpoint & Precipitation | Tue, 06Jan2026 12Z",
         ha="center", va="center", color=FG, fontsize=11.5, fontweight="bold")
fig.text(120 / W, 1 - 598 / H, "GFS Ensemble, 51N, 4.5E", ha="left", va="center",
         color="#e6e6e6", fontsize=11.5)
fig.text(650 / W, 1 - 598 / H, "Wetterzentrale.de", ha="left", va="center",
         color="#e6e6e6", fontsize=11.5)

# legend (row-wise order P1 P2 / P3 P4 ...)
entries = [(n, c, 2.0) for n, c in zip(member_names, member_colors)]
entries += [("Control", CONTROL_C, 2.4), ("Ens. mean", MEAN_C, 2.4), ("Oper", OPER_C, 2.4)]
col1 = entries[0::2]
col2 = entries[1::2]
ordered = col1 + col2
handles = [Line2D([], [], color=c, lw=lw) for _, c, lw in ordered]
labels = [n for n, _, _ in ordered]
leg = fig.legend(handles, labels, loc="upper left", bbox_to_anchor=(0.0, 1 - 35 / H),
                 ncol=2, frameon=False, fontsize=7.5, handlelength=0.8, handletextpad=0.1,
                 columnspacing=0.7, labelspacing=0.485, borderpad=0, borderaxespad=0)
for t in leg.get_texts():
    t.set_color(FG)

fig.savefig("out.png", dpi=100, facecolor=BG)
